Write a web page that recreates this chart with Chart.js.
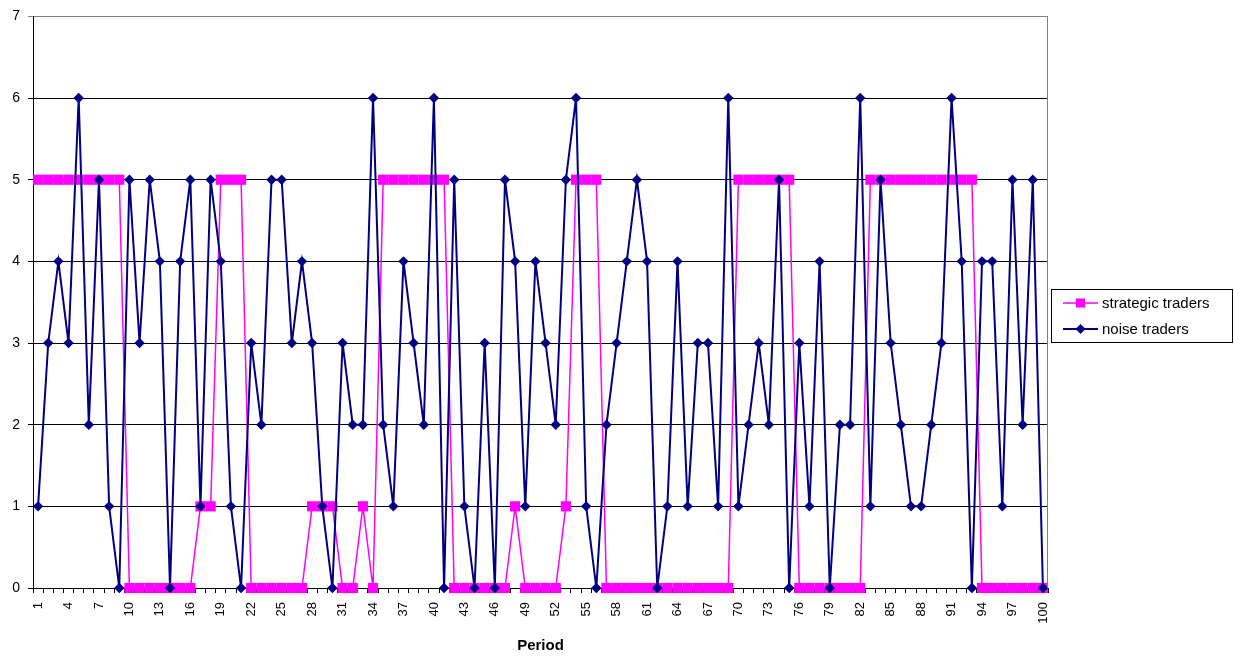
<!DOCTYPE html>
<html lang="en">
<head>
<meta charset="UTF-8">
<title>Strategic and noise traders</title>
<style>
  html, body { margin: 0; padding: 0; background: #fff; }
  #wrap { width: 1234px; height: 656px; }
</style>
</head>
<body>
<div id="wrap"><canvas id="chart" width="1234" height="656"></canvas></div>

<script src="https://cdn.jsdelivr.net/npm/chart.js@4/dist/chart.umd.min.js"></script>
<script>
  // periods 1..100 on the x axis
  const periods = Array.from({ length: 100 }, (_, i) => String(i + 1));

  const strategic = [
    5, 5, 5, 5, 5, 5, 5, 5, 5, 0,
    0, 0, 0, 0, 0, 0, 1, 1, 5, 5,
    5, 0, 0, 0, 0, 0, 0, 1, 1, 1,
    0, 0, 1, 0, 5, 5, 5, 5, 5, 5,
    5, 0, 0, 0, 0, 0, 0, 1, 0, 0,
    0, 0, 1, 5, 5, 5, 0, 0, 0, 0,
    0, 0, 0, 0, 0, 0, 0, 0, 0, 5,
    5, 5, 5, 5, 5, 0, 0, 0, 0, 0,
    0, 0, 5, 5, 5, 5, 5, 5, 5, 5,
    5, 5, 5, 0, 0, 0, 0, 0, 0, 0
  ];

  const noise = [
    1, 3, 4, 3, 6, 2, 5, 1, 0, 5,
    3, 5, 4, 0, 4, 5, 1, 5, 4, 1,
    0, 3, 2, 5, 5, 3, 4, 3, 1, 0,
    3, 2, 2, 6, 2, 1, 4, 3, 2, 6,
    0, 5, 1, 0, 3, 0, 5, 4, 1, 4,
    3, 2, 5, 6, 1, 0, 2, 3, 4, 5,
    4, 0, 1, 4, 1, 3, 3, 1, 6, 1,
    2, 3, 2, 5, 0, 3, 1, 4, 0, 2,
    2, 6, 1, 5, 3, 2, 1, 1, 2, 3,
    6, 4, 0, 4, 4, 1, 5, 2, 5, 0
  ];

  const seriesNames = ['strategic traders', 'noise traders'];
  const yMin = 0, yMax = 7;

  const FONT = 'Arial, "Liberation Sans", sans-serif';
  const PINK = '#FF00FF';
  const NAVY = '#000080';

  // grey plot-area border on the right side
  const plotBorder = {
    id: 'plotBorder',
    afterDraw(chart) {
      const { ctx, chartArea } = chart;
      ctx.save();
      ctx.strokeStyle = '#808080';
      ctx.lineWidth = 1;
      ctx.beginPath();
      ctx.moveTo(Math.round(chartArea.right) - 0.5, chartArea.top);
      ctx.lineTo(Math.round(chartArea.right) - 0.5, chartArea.bottom);
      ctx.stroke();
      ctx.restore();
    }
  };

  // excel style legend: line with marker, boxed
  const boxLegend = {
    id: 'boxLegend',
    afterDraw(chart) {
      const ctx = chart.ctx;
      ctx.save();
      ctx.strokeStyle = '#000';
      ctx.lineWidth = 1;
      ctx.strokeRect(1051.5, 289.5, 181, 53);

      const rows = [
        { text: seriesNames[0], color: PINK, marker: 'square', y: 303 },
        { text: seriesNames[1], color: NAVY, marker: 'diamond', y: 329 }
      ];
      rows.forEach(r => {
        ctx.strokeStyle = r.color;
        ctx.fillStyle = r.color;
        ctx.lineWidth = r.marker === 'square' ? 1.5 : 2;
        ctx.beginPath();
        ctx.moveTo(1063, r.y);
        ctx.lineTo(1098, r.y);
        ctx.stroke();
        if (r.marker === 'square') {
          ctx.fillRect(1076, r.y - 4.5, 9, 9);
        } else {
          ctx.beginPath();
          ctx.moveTo(1080.5, r.y - 5);
          ctx.lineTo(1085.5, r.y);
          ctx.lineTo(1080.5, r.y + 5);
          ctx.lineTo(1075.5, r.y);
          ctx.closePath();
          ctx.fill();
        }
        ctx.fillStyle = '#000';
        ctx.font = '15px ' + FONT;
        ctx.textAlign = 'left';
        ctx.textBaseline = 'middle';
        ctx.fillText(r.text, 1102, r.y + 1);
      });
      ctx.restore();
    }
  };

  const ctx = document.getElementById('chart').getContext('2d');
  new Chart(ctx, {
    type: 'line',
    data: {
      labels: periods,
      datasets: [
        {
          label: seriesNames[0],
          data: strategic,
          borderColor: PINK,
          backgroundColor: PINK,
          borderWidth: 1.5,
          pointStyle: 'rect',
          pointRadius: 7.2,
          pointBorderWidth: 0,
          tension: 0,
          clip: false,
          order: 1
        },
        {
          label: seriesNames[1],
          data: noise,
          borderColor: NAVY,
          backgroundColor: NAVY,
          borderWidth: 2,
          pointStyle: 'rectRot',
          pointRadius: 5.2,
          pointBorderWidth: 0,
          tension: 0,
          clip: false,
          order: 0
        }
      ]
    },
    options: {
      responsive: false,
      animation: false,
      devicePixelRatio: 1,
      layout: { padding: { top: 14, right: 186, left: 0, bottom: 0 } },
      plugins: {
        legend: { display: false },
        tooltip: { enabled: false }
      },
      scales: {
        x: {
          offset: true,
          grid: {
            offset: true,
            drawOnChartArea: false,
            drawTicks: true,
            tickLength: 5,
            color: '#000'
          },
          border: { color: '#000', width: 1 },
          ticks: {
            autoSkip: false,
            maxRotation: 90,
            minRotation: 90,
            padding: 9,
            color: '#000',
            font: { family: FONT, size: 13 },
            callback: (v, i) => (i % 3 === 0 ? periods[i] : '')
          },
          title: {
            display: true,
            text: 'Period',
            color: '#000',
            font: { family: FONT, size: 15, weight: 'bold' },
            padding: { top: 0, bottom: 1 }
          },
          afterFit: s => { s.height = 68; }
        },
        y: {
          min: yMin,
          max: yMax,
          grid: {
            color: c => (c.tick && c.tick.value === yMax ? '#808080' : '#000'),
            lineWidth: 1,
            tickLength: 5
          },
          border: { color: '#000', width: 1 },
          ticks: {
            stepSize: 1,
            padding: 8,
            color: '#000',
            font: { family: FONT, size: 14 }
          },
          afterFit: s => { s.width = 33; }
        }
      }
    },
    plugins: [plotBorder, boxLegend]
  });
</script>
</body>
</html>
